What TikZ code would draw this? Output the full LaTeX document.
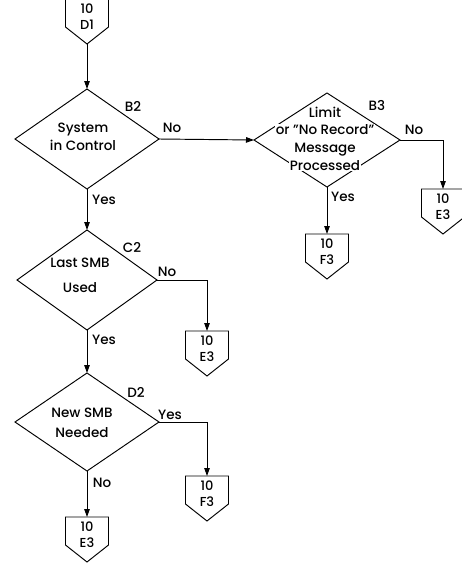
\documentclass[tikz,border=0pt]{standalone}
\usepackage{fontspec}
\setmainfont{Poppins}[UprightFont=* Medium]
\usetikzlibrary{shapes.geometric,arrows.meta,calc}
\tikzset{
 dia/.style={diamond, draw, line width=0.95pt, inner sep=0pt, outer sep=0pt},
 conn/.style={rectangle, minimum width=43pt, minimum height=45pt, inner sep=0pt, outer sep=0pt, anchor=north, font=\fontsize{13}{15.5}\selectfont},
 dtxt/.style={align=center, inner sep=0pt},
 lbl/.style={inner sep=0pt, font=\fontsize{13.5}{15}\selectfont},
 flow/.style={line width=0.95pt, -{Triangle[length=8pt,width=5.5pt]}},
 edge/.style={line width=0.95pt, line join=miter}
}
\newcommand\offpage[4]{%
 \node[conn] (#1) at (#2) {\raisebox{3.5pt}[\height][\depth]{\begin{tabular}{@{}c@{}}#3\\[0.5pt]#4\end{tabular}}};
 \draw[edge] (#1.north west) -- (#1.north east) -- ($(#1.north east)+(0,28)$) -- (#1.south) -- ($(#1.north west)+(0,28)$) -- cycle;
}
\newcommand\wb[1]{{\setlength{\fboxsep}{1pt}\colorbox{white}{#1}}}
\begin{document}
\begin{tikzpicture}[x=1pt,y=-1pt]
\useasboundingbox (0,0) rectangle (462,565);
% decisions
\node[dia, minimum width=144pt, minimum height=100pt] (b2) at (87,139) {};
\node[dia, minimum width=140pt, minimum height=100pt] (c2) at (87,280) {};
\node[dia, minimum width=144pt, minimum height=98pt] (d2) at (87,422) {};
\node[dia, minimum width=146pt, minimum height=94pt] (b3) at (327,140) {};
% off-page connectors
\offpage{d1}{87,-1}{10}{D1}
\offpage{e3a}{443,189}{10}{E3}
\offpage{f3a}{327,234}{10}{F3}
\offpage{e3b}{207,331}{10}{E3}
\offpage{f3b}{207,476}{10}{F3}
\offpage{e3c}{87,517}{10}{E3}
% connectors
\draw[flow] (d1.south) -- (b2.north);
\draw[flow] (b2.east) -- (b3.west);
\draw[flow] (b2.south) -- (c2.north);
\draw[flow] (c2.south) -- (d2.north);
\draw[flow] (d2.south) -- (e3c.north);
\draw[flow] (b3.south) -- (f3a.north);
\draw[flow] (b3.east) -| (e3a.north);
\draw[flow] (c2.east) -| (e3b.north);
\draw[flow] (d2.east) -| (f3b.north);
% decision texts
\node[dtxt, font=\fontsize{13.5}{18}\selectfont] (tb2) at (83,137) {System\\in Control};
\node[dtxt, font=\fontsize{13.5}{25}\selectfont] (tc2) at (80,275) {Last SMB\\Used};
\node[dtxt, font=\fontsize{13.5}{20}\selectfont] (td2) at (82,423) {New SMB\\Needed};
\node[dtxt, font=\fontsize{13.5}{17.7}\selectfont] (tb3) at (325,138.5) {\wb{Limit}\\\wb{or "No Record"}\\\wb{Message}\\\wb{Processed}};
% labels
\node[lbl] (lb2) at (133,106) {B2};
\node[lbl] (lb3) at (377,105) {B3};
\node[lbl] (lc2) at (132,248) {C2};
\node[lbl] (ld2) at (136,392) {D2};
\node[lbl] (nb2) at (172,128) {No};
\node[lbl] (yb2) at (104,200) {Yes};
\node[lbl] (nb3) at (414,130) {No};
\node[lbl] (yb3) at (343,197) {Yes};
\node[lbl] (nc2) at (167,272) {No};
\node[lbl] (yc2) at (104,340) {Yes};
\node[lbl] (yd2) at (170,415) {Yes};
\node[lbl] (nd2) at (102,483) {No};
\end{tikzpicture}
\end{document}
